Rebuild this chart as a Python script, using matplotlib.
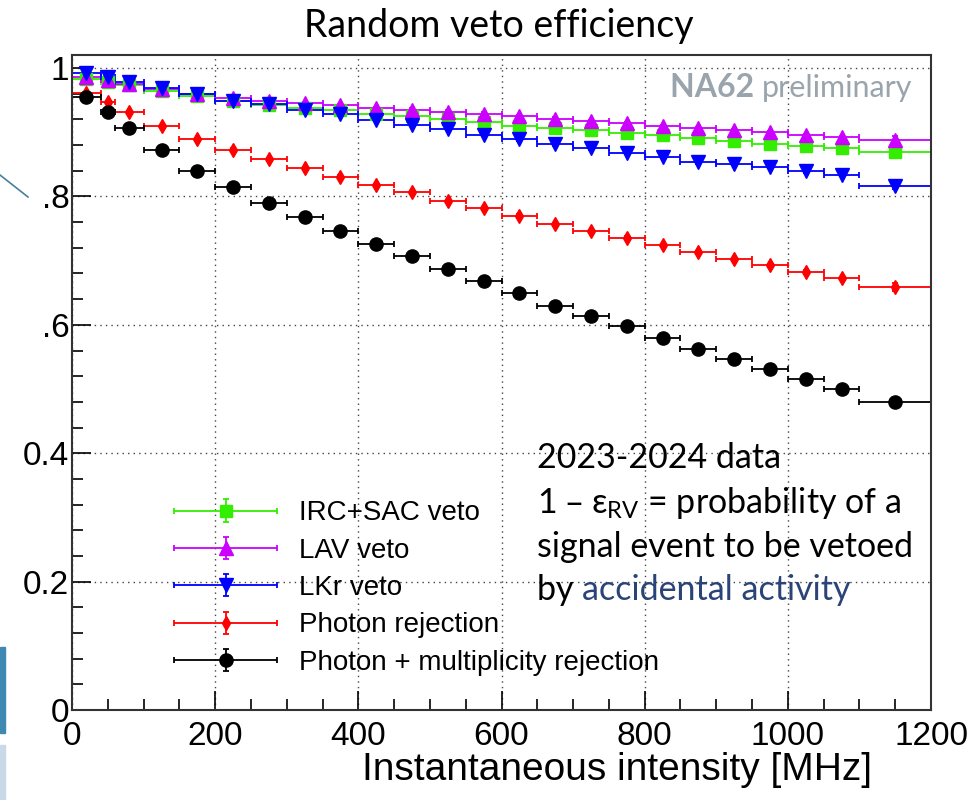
import matplotlib
matplotlib.use("Agg")
import matplotlib.pyplot as plt
from matplotlib.lines import Line2D
from matplotlib.patches import Rectangle
from matplotlib.legend_handler import HandlerErrorbar
from matplotlib.ticker import MultipleLocator, FixedLocator, FixedFormatter

# bin centres and half widths [MHz]
x_centers = [20, 50, 80, 125, 175, 225, 275, 325, 375, 425, 475, 525, 575,
             625, 675, 725, 775, 825, 875, 925, 975, 1025, 1075, 1150]
x_halfw = [20, 10, 20, 25, 25, 25, 25, 25, 25, 25, 25, 25, 25,
           25, 25, 25, 25, 25, 25, 25, 25, 25, 25, 50]

irc_sac = [0.983, 0.978, 0.973, 0.964, 0.957, 0.948, 0.943, 0.937, 0.934, 0.928, 0.925, 0.920,
           0.916, 0.910, 0.906, 0.903, 0.899, 0.895, 0.891, 0.887, 0.882, 0.879, 0.875, 0.869]
lav = [0.986, 0.981, 0.975, 0.968, 0.960, 0.954, 0.949, 0.945, 0.942, 0.937, 0.935, 0.932,
       0.929, 0.925, 0.921, 0.917, 0.914, 0.910, 0.906, 0.903, 0.900, 0.896, 0.892, 0.888]
lkr = [0.992, 0.986, 0.979, 0.969, 0.960, 0.949, 0.944, 0.935, 0.928, 0.919, 0.912, 0.905,
       0.896, 0.889, 0.881, 0.875, 0.868, 0.862, 0.853, 0.851, 0.846, 0.839, 0.834, 0.817]
photon = [0.961, 0.947, 0.931, 0.909, 0.889, 0.873, 0.858, 0.844, 0.831, 0.818, 0.807, 0.793,
          0.782, 0.770, 0.757, 0.746, 0.736, 0.724, 0.713, 0.702, 0.693, 0.683, 0.673, 0.659]
photon_mult = [0.955, 0.932, 0.907, 0.873, 0.840, 0.814, 0.790, 0.768, 0.746, 0.726, 0.707, 0.687,
               0.669, 0.650, 0.630, 0.614, 0.598, 0.579, 0.562, 0.546, 0.531, 0.515, 0.500, 0.480]

yerr_small = [0.002] * 23 + [0.006]

series = [
    ("IRC+SAC veto", irc_sac, "#33ee00", "s", 8.5),
    ("LAV veto", lav, "#cc00ff", "^", 9.5),
    ("LKr veto", lkr, "#0000ff", "v", 9.5),
    ("Photon rejection", photon, "#ff0000", "d", 7),
    ("Photon + multiplicity rejection", photon_mult, "#000000", "o", 9.5),
]

fig = plt.figure(figsize=(9.8, 8), dpi=100)
ax = fig.add_axes([0.0735, 0.1125, 0.8765, 0.8185])

handles = []
for label, vals, col, mk, ms in series:
    h = ax.errorbar(x_centers, vals, xerr=x_halfw, yerr=yerr_small, fmt=mk, color=col,
                    ms=ms, lw=1.3, capsize=2.5, capthick=1.3, label=label)
    handles.append(h)

ax.set_xlim(0, 1200)
ax.set_ylim(0, 1.02)

ax.xaxis.set_major_locator(MultipleLocator(200))
ax.xaxis.set_minor_locator(MultipleLocator(50))
ax.yaxis.set_major_locator(FixedLocator([0, 0.2, 0.4, 0.6, 0.8, 1.0]))
ax.yaxis.set_major_formatter(FixedFormatter(["0", "0.2", "0.4", ".6", ".8", "1"]))
ax.yaxis.set_minor_locator(MultipleLocator(0.04))
ax.tick_params(which="both", direction="in", top=False, right=False)
ax.tick_params(which="major", length=14, width=1.2, labelsize=24)
ax.tick_params(which="minor", length=8, width=1.2)
ax.tick_params(axis="x", pad=8)
ax.tick_params(axis="y", pad=2)
for lab in ax.get_xticklabels() + ax.get_yticklabels():
    lab.set_family("Liberation Sans")
for sp in ax.spines.values():
    sp.set_linewidth(1.5)
    sp.set_color("#333333")

ax.grid(True, which="major", linestyle=(0, (1, 3)), color="#444444", lw=1.0)
ax.set_axisbelow(True)

ax.set_xlabel("Instantaneous intensity [MHz]", fontsize=28, family="Liberation Sans")
ax.xaxis.set_label_coords(0.9316, -0.107)
ax.xaxis.label.set_horizontalalignment("right")
ax.xaxis.label.set_verticalalignment("baseline")

fig.text(0.509, 0.954, "Random veto efficiency", fontsize=27, family="Lato",
         ha="center", va="baseline")

na = fig.text(670 / 980, 1 - 97 / 800, "NA62 ", fontsize=23, family="Lato",
              weight="bold", color="#9aa4ac", va="baseline")
fig.canvas.draw()
nb = na.get_window_extent()
fig.text(nb.x1 / fig.bbox.width, 1 - 97 / 800, "preliminary", fontsize=22, family="Lato",
         color="#9aa4ac", va="baseline")

tx = 537 / 980
fs_box = 24.5
fig.text(tx, 1 - 468 / 800, "2023-2024 data", fontsize=fs_box, family="Lato", va="baseline")
fig.text(tx, 1 - 513 / 800, r"1 – ε$_{\mathregular{RV}}$ = probability of a", fontsize=fs_box,
         family="Lato", va="baseline")
fig.text(tx, 1 - 557 / 800, "signal event to be vetoed", fontsize=fs_box, family="Lato",
         va="baseline")
t1 = fig.text(tx, 1 - 600 / 800, "by ", fontsize=fs_box, family="Lato", va="baseline")
fig.canvas.draw()
bb = t1.get_window_extent()
fig.text(bb.x1 / fig.bbox.width, 1 - 600 / 800, "accidental activity", fontsize=fs_box,
         family="Lato", color="#2b4478", va="baseline")

hmap = {h: HandlerErrorbar(xerr_size=1.85, yerr_size=0.4) for h in handles}
leg = ax.legend(handles=handles, loc="upper left", bbox_to_anchor=(152 / 980, 1 - 478 / 800),
                bbox_transform=fig.transFigure, frameon=False,
                handlelength=3.7, handletextpad=0.8, labelspacing=0.41, borderpad=0.3,
                prop={"family": "Liberation Sans", "size": 20}, handler_map=hmap)

# slide leftovers on the left margin
fig.add_artist(Line2D([0, 28 / 980], [1 - 175 / 800, 1 - 197 / 800], color="#4a7f9c",
                      lw=1.2, transform=fig.transFigure))
fig.add_artist(Rectangle((0, 1 - 733 / 800), 5 / 980, 86 / 800, color="#3f88b2",
                         transform=fig.transFigure))
fig.add_artist(Rectangle((0, 0), 5 / 980, 55 / 800, color="#c9d9e8",
                         transform=fig.transFigure))

fig.savefig("out.png", dpi=100)
